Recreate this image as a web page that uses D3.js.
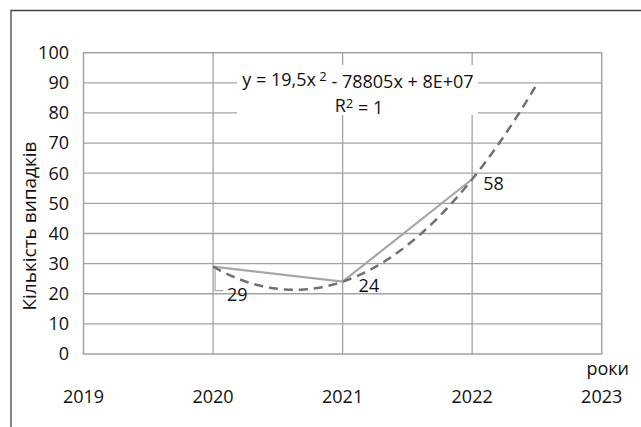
<!DOCTYPE html>
<html>
<head>
<meta charset="utf-8">
<script src="https://cdn.jsdelivr.net/npm/d3@7"></script>
<style>
  body { margin: 0; background: #fff; }
  text { font-family: "Open Sans", "Noto Sans", sans-serif; fill: #111; }
</style>
</head>
<body>
<div id="chart"></div>
<script>
// data
var years = [2020, 2021, 2022];
var cases = [29, 24, 58];
var xTicks = [2019, 2020, 2021, 2022, 2023];
var yTicks = [0, 10, 20, 30, 40, 50, 60, 70, 80, 90, 100];
var xTitle = "роки";
var yTitle = "Кількість випадків";
var forward = 0.5; // trendline forecast (years)

const width = 641, height = 427;
const fs = "18px";
const svg = d3.select("#chart").append("svg")
  .attr("width", width)
  .attr("height", height);

const x = d3.scaleLinear().domain([2019, 2023]).range([83.5, 601.7]);
const y = d3.scaleLinear().domain([0, 100]).range([354, 52.7]);

const gridColor = "#a3a3a3";

// outer frame (only top and left edges are visible)
svg.append("path")
  .attr("d", "M11,427 V10.5 H641")
  .attr("fill", "none")
  .attr("stroke", "#444")
  .attr("stroke-width", 1.3);

// gridlines
svg.selectAll("hgrid")
  .data(yTicks.filter(d => d > 0 && d < 100))
  .join("line")
  .attr("x1", x.range()[0]).attr("x2", x.range()[1])
  .attr("y1", d => y(d)).attr("y2", d => y(d))
  .attr("stroke", gridColor).attr("stroke-width", 1.3);

svg.selectAll("vgrid")
  .data(xTicks.filter(d => d > 2019 && d < 2023))
  .join("line")
  .attr("y1", y.range()[0]).attr("y2", y.range()[1])
  .attr("x1", d => x(d)).attr("x2", d => x(d))
  .attr("stroke", gridColor).attr("stroke-width", 1.3);

svg.append("rect")
  .attr("x", x.range()[0]).attr("y", y.range()[1])
  .attr("width", x.range()[1] - x.range()[0])
  .attr("height", y.range()[0] - y.range()[1])
  .attr("fill", "none")
  .attr("stroke", gridColor).attr("stroke-width", 1.5);

// tick labels
svg.selectAll("ylab")
  .data(yTicks)
  .join("text")
  .attr("x", 69)
  .attr("y", d => y(d))
  .attr("dy", "0.35em")
  .attr("text-anchor", "end")
  .style("font-size", fs)
  .text(d => d);

svg.selectAll("xlab")
  .data(xTicks)
  .join("text")
  .attr("x", d => x(d))
  .attr("y", 397)
  .attr("dy", "0.35em")
  .attr("text-anchor", "middle")
  .style("font-size", fs)
  .text(d => d);

svg.append("text")
  .attr("x", 629).attr("y", 369).attr("dy", "0.35em")
  .attr("text-anchor", "end")
  .style("font-size", fs)
  .text(xTitle);

svg.append("text")
  .attr("transform", "translate(29,226) rotate(-90)")
  .attr("dy", "0.35em")
  .attr("text-anchor", "middle")
  .style("font-size", "19px")
  .text(yTitle);

// polynomial (order 2) least squares fit, in t = year - years[0]
function fitQuad(xs, ys) {
  var S = [0, 0, 0, 0, 0], T = [0, 0, 0];
  for (var i = 0; i < xs.length; i++) {
    var t = xs[i] - xs[0];
    for (var k = 0; k < 5; k++) S[k] += Math.pow(t, k);
    for (var k = 0; k < 3; k++) T[k] += ys[i] * Math.pow(t, k);
  }
  // normal equations for c + b t + a t^2
  var M = [[S[0], S[1], S[2], T[0]], [S[1], S[2], S[3], T[1]], [S[2], S[3], S[4], T[2]]];
  for (var i = 0; i < 3; i++) {
    for (var j = i + 1; j < 3; j++) {
      var f = M[j][i] / M[i][i];
      for (var k = i; k < 4; k++) M[j][k] -= f * M[i][k];
    }
  }
  var sol = [0, 0, 0];
  for (var i = 2; i >= 0; i--) {
    var s = M[i][3];
    for (var k = i + 1; k < 3; k++) s -= M[i][k] * sol[k];
    sol[i] = s / M[i][i];
  }
  return { c: sol[0], b: sol[1], a: sol[2] };
}

const fit = fitQuad(years, cases);
const trendFn = yr => {
  var t = yr - years[0];
  return fit.a * t * t + fit.b * t + fit.c;
};

// coefficients in year units for the equation label
const x0 = years[0];
const A = fit.a, B = fit.b - 2 * fit.a * x0, C = fit.a * x0 * x0 - fit.b * x0 + fit.c;
const fmtA = String(+A.toFixed(2)).replace(".", ",");
const fmtB = Math.round(Math.abs(B));
const expC = Math.floor(Math.log10(Math.abs(C)));
const fmtC = Math.round(C / Math.pow(10, expC)) + "E+" + String(expC).padStart(2, "0");

// equation box (white background hides gridlines)
svg.append("rect")
  .attr("x", 237).attr("y", 65).attr("width", 241).attr("height", 50)
  .attr("fill", "#fff");

const eq = svg.append("text")
  .attr("x", 358).attr("y", 80).attr("dy", "0.35em")
  .attr("text-anchor", "middle")
  .style("font-size", fs);
eq.append("tspan").text("y = " + fmtA + "x");
eq.append("tspan").attr("dy", "-0.4em").style("font-size", "13px").text(" 2");
eq.append("tspan").attr("dy", "0.4em").text(" " + (B < 0 ? "-" : "+") + " " + fmtB + "x + " + fmtC);

const r2 = svg.append("text")
  .attr("x", 359).attr("y", 106).attr("dy", "0.35em")
  .attr("text-anchor", "middle")
  .style("font-size", fs);
r2.append("tspan").text("R");
r2.append("tspan").attr("dy", "-0.35em").style("font-size", "13px").text("2");
r2.append("tspan").attr("dy", "0.35em").text(" = 1");

// actual series
const line = d3.line().x(d => x(d[0])).y(d => y(d[1]));
svg.append("path")
  .datum(d3.zip(years, cases))
  .attr("d", line)
  .attr("fill", "none")
  .attr("stroke", "#a6a6a6")
  .attr("stroke-width", 2.2);

// trendline
const tEnd = years[years.length - 1] + forward;
const trendPts = d3.range(years[0], tEnd + 1e-9, 0.02).map(v => [v, trendFn(v)]);
svg.append("path")
  .datum(trendPts)
  .attr("d", line)
  .attr("fill", "none")
  .attr("stroke", "#707070")
  .attr("stroke-width", 2.5)
  .attr("stroke-dasharray", "9,6");

// data labels
const labelOffsets = [[14, 28], [16, 4], [11, 4]];
svg.append("path")
  .attr("d", `M${x(years[0]) + 2},${y(cases[0]) + 2} V${y(cases[0]) + 24} H${x(years[0]) + 10}`)
  .attr("fill", "none")
  .attr("stroke", "#a6a6a6")
  .attr("stroke-width", 1.2);

svg.selectAll("dlab")
  .data(d3.zip(years, cases))
  .join("text")
  .attr("x", (d, i) => x(d[0]) + labelOffsets[i][0])
  .attr("y", (d, i) => y(d[1]) + labelOffsets[i][1])
  .attr("dy", "0.35em")
  .style("font-size", fs)
  .text(d => d[1]);
</script>
</body>
</html>
